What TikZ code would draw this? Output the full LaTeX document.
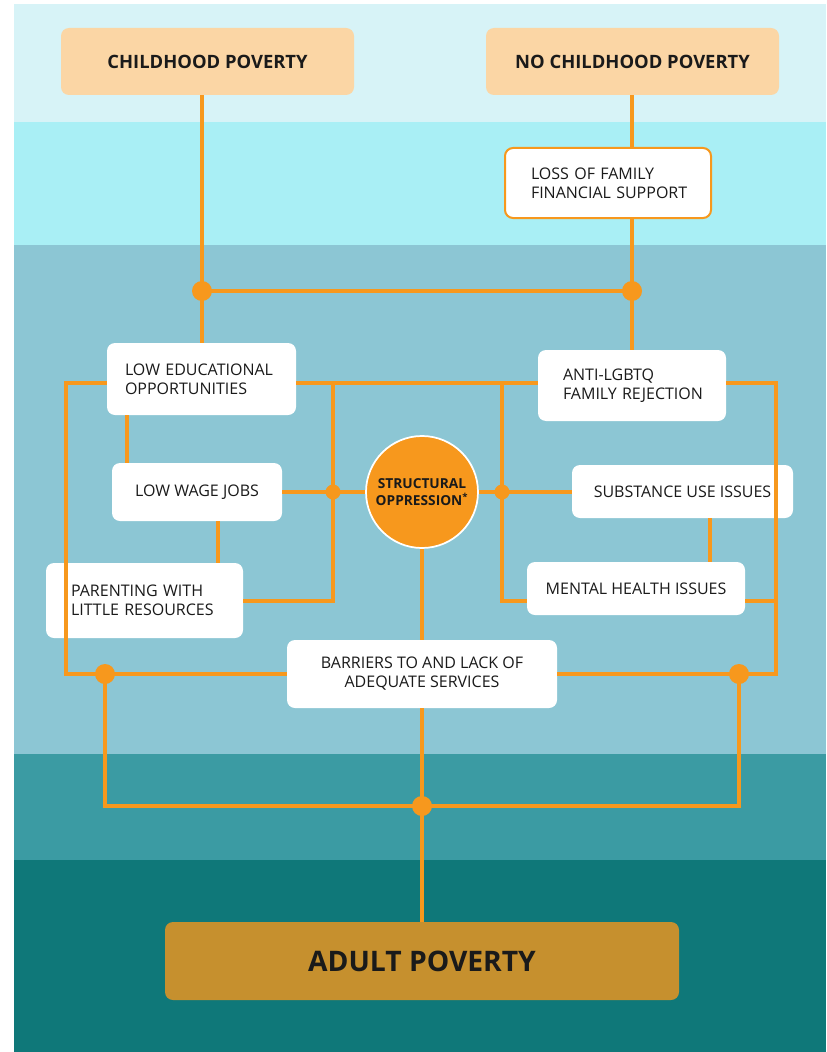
\documentclass[tikz,border=0pt]{standalone}
\usepackage{fontspec}
\setmainfont{Open Sans}
\definecolor{bandA}{HTML}{D7F3F7}
\definecolor{bandB}{HTML}{A9EFF5}
\definecolor{bandC}{HTML}{8CC6D4}
\definecolor{bandD}{HTML}{3B9BA3}
\definecolor{bandE}{HTML}{0F7879}
\definecolor{peach}{HTML}{FBD6A5}
\definecolor{org}{HTML}{F7981D}
\definecolor{gold}{HTML}{C6902E}
\definecolor{txt}{HTML}{1A1A1A}
\begin{document}
\begin{tikzpicture}[x=0.75pt,y=-0.75pt,
  conn/.style={draw=org, line width=2.5pt},
  box/.style={rectangle, rounded corners=6pt, fill=white, text=txt, inner sep=0pt,
    font=\fontsize{12}{14.3}\selectfont, align=center},
  topbox/.style={rectangle, rounded corners=6pt, fill=peach, text=txt, inner sep=0pt,
    font=\bfseries\fontsize{13.8}{15}\selectfont, minimum width={293*0.75pt}, minimum height={67*0.75pt}},
  bigdot/.style={circle, fill=org, inner sep=0pt, minimum size={20*0.75pt}},
  smalldot/.style={circle, fill=org, inner sep=0pt, minimum size={15*0.75pt}}
]
\useasboundingbox (0,0) rectangle (826,1052);
\fill[white] (0,0) rectangle (826,1052);
\fill[bandA] (14,4) rectangle (826,122);
\fill[bandB] (14,122) rectangle (826,245);
\fill[bandC] (14,245) rectangle (826,754);
\fill[bandD] (14,754) rectangle (826,860);
\fill[bandE] (14,860) rectangle (826,1052);

% nodes
\node[topbox] (cp) at (207.5,61.5) {CHILDHOOD POVERTY};
\node[topbox] (ncp) at (632.5,61.5) {NO CHILDHOOD POVERTY};
\node[box, draw=org, line width=1.5pt, minimum width={206*0.75pt}, minimum height={70*0.75pt},
  text width={154*0.75pt}, align=left] (loss) at (608,183) {\mbox{LOSS OF FAMILY}\\\mbox{FINANCIAL SUPPORT}};
\node[box, minimum width={189*0.75pt}, minimum height={72*0.75pt}, text width={153*0.75pt}, align=left]
  (edu) at (201.5,379) {\mbox{LOW EDUCATIONAL}\\\mbox{OPPORTUNITIES}};
\node[box, minimum width={188*0.75pt}, minimum height={71*0.75pt}, text width={138*0.75pt}, align=left]
  (anti) at (632,385.5) {\mbox{ANTI-LGBTQ}\\\mbox{FAMILY REJECTION}};
\node[box, minimum width={170*0.75pt}, minimum height={58*0.75pt}] (lwj) at (197,492) {LOW WAGE JOBS};
\node[box, minimum width={197*0.75pt}, minimum height={75*0.75pt}, text width={147*0.75pt}, align=left]
  (par) at (144.5,600.5) {\mbox{PARENTING WITH}\\\mbox{LITTLE RESOURCES}};
\node[box, minimum width={221*0.75pt}, minimum height={53*0.75pt}] (sub) at (682.5,491.5) {SUBSTANCE USE ISSUES};
\node[box, minimum width={218*0.75pt}, minimum height={53*0.75pt}] (mh) at (636,588.5) {MENTAL HEALTH ISSUES};
\node[box, minimum width={270*0.75pt}, minimum height={68*0.75pt}] (bar) at (422,674) {BARRIERS TO AND LACK OF\\ADEQUATE SERVICES};
\node[rectangle, rounded corners=6pt, fill=gold, text=txt, inner sep=0pt,
  font=\bfseries\fontsize{21.2}{24}\selectfont, minimum width={514*0.75pt}, minimum height={78*0.75pt}]
  (adult) at (422,961) {ADULT POVERTY};

% junction coordinates
\coordinate (dL) at (202,291);
\coordinate (dR) at (632,291);
\coordinate (jL1) at (66,383);
\coordinate (jR1) at (776,383);
\coordinate (jC1) at (333,383);
\coordinate (jC2) at (502,383);
\coordinate (jL) at (333,492);
\coordinate (jR) at (502,492);
\coordinate (jC1b) at (333,601);
\coordinate (jC2b) at (502,601);
\coordinate (jR3) at (776,601);
\coordinate (jL2) at (66,674);
\coordinate (jR2) at (776,674);
\coordinate (dBL) at (105,674);
\coordinate (dBR) at (739,674);
\coordinate (dB) at (422,806);
\coordinate (cBL) at (105,806);
\coordinate (cBR) at (739,806);
\coordinate (xa) at (127,0);
\coordinate (xb) at (218,0);
\coordinate (xc) at (710,0);

% connectors
\draw[conn] (cp.south -| dL) -- (dL) -- (edu.north -| dL);
\draw[conn] (dL) -- (dR);
\draw[conn] (ncp.south -| dR) -- (loss.north -| dR);
\draw[conn] (loss.south -| dR) -- (dR) -- (anti.north -| dR);
\draw[conn] (edu.west |- jL1) -- (jL1) -- (jL2) -- (bar.west |- jL2);
\draw[conn] (edu.east |- jC1) -- (anti.west |- jC1);
\draw[conn] (anti.east |- jR1) -- (jR1) -- (jR2) -- (bar.east |- jR2);
\draw[conn] (jC1) -- (jC1b) -- (par.east |- jC1b);
\draw[conn] (jC2) -- (jC2b) -- (mh.west |- jC2b);
\draw[conn] (mh.east |- jR3) -- (jR3);
\draw[conn] (edu.south -| xa) -- (lwj.north -| xa);
\draw[conn] (lwj.south -| xb) -- (par.north -| xb);
\draw[conn] (sub.south -| xc) -- (mh.north -| xc);
\draw[conn] (dBL) -- (cBL) -- (cBR) -- (dBR);
\draw[conn] (bar.south) -- (dB) -- (adult.north);

\node[circle, fill=org, draw=white, line width=1.3pt, minimum size={112*0.75pt}, inner sep=0pt,
  text=txt, align=center, font=\bfseries\fontsize{10.3}{12.2}\selectfont] (circ) at (422,492)
  {STRUCTURAL\\OPPRESSION\textsuperscript{*}};
\draw[conn] (lwj.east |- jL) -- (circ.west);
\draw[conn] (circ.east) -- (sub.west |- jR);
\draw[conn] (circ.south) -- (bar.north);

% dots
\node[bigdot] (nL) at (dL) {};
\node[bigdot] (nR) at (dR) {};
\node[smalldot] (nJL) at (jL) {};
\node[smalldot] (nJR) at (jR) {};
\node[bigdot] (nBL) at (dBL) {};
\node[bigdot] (nBR) at (dBR) {};
\node[bigdot] (nB) at (dB) {};
\end{tikzpicture}
\end{document}
